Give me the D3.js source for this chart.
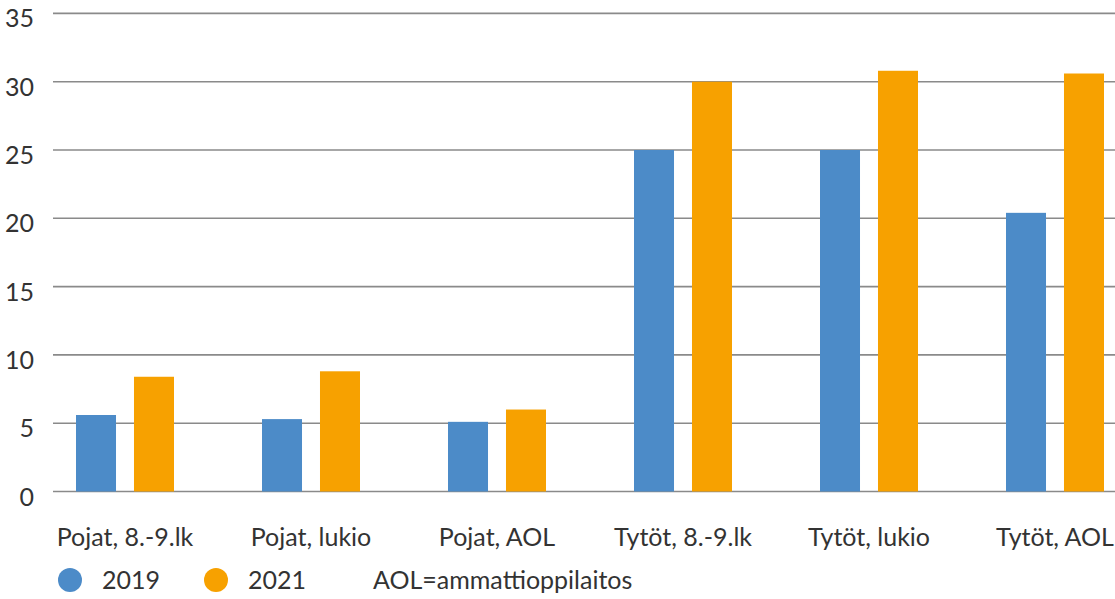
<!DOCTYPE html>
<html>
<head>
<meta charset="utf-8">
<script src="https://cdn.jsdelivr.net/npm/d3@7/dist/d3.min.js"></script>
<style>
  html, body { margin: 0; padding: 0; background: #fff; }
  svg { display: block; font-family: Lato, "Open Sans", sans-serif; }
</style>
</head>
<body>
<svg id="chart" width="1115" height="599"></svg>
<script>
// Categories and series
const categories = ["Pojat, 8.-9.lk", "Pojat, lukio", "Pojat, AOL", "Tytöt, 8.-9.lk", "Tytöt, lukio", "Tytöt, AOL"];
const years = ["2019", "2021"];
const values2019 = [5.6, 5.3, 5.1, 25.0, 25.0, 20.4];
const values2021 = [8.4, 8.8, 6.0, 30.0, 30.8, 30.6];
const yTicks = [0, 5, 10, 15, 20, 25, 30, 35];
const note = "AOL=ammattioppilaitos";

const colors = { "2019": "#4c8bc8", "2021": "#f7a100" };
const textColor = "#333333";
const fontSize = 25;

const svg = d3.select("#chart");
const W = 1115;

const x = d3.scaleBand().domain(categories).range([32, 1148]).paddingInner(0).paddingOuter(0);
const xSub = d3.scaleBand().domain(years).range([-49, 49]).paddingInner(0.31).paddingOuter(0);
const y = d3.scaleLinear().domain([0, 35]).range([491.5, 13.4]);

// Gridlines
svg.append("g")
  .selectAll("line")
  .data(yTicks)
  .join("line")
  .attr("x1", 53).attr("x2", W)
  .attr("y1", d => y(d)).attr("y2", d => y(d))
  .attr("stroke", "#8a8a8a")
  .attr("stroke-width", 1.6);

// Y tick labels, hanging just below each gridline
svg.append("g")
  .selectAll("text")
  .data(yTicks)
  .join("text")
  .attr("x", 34)
  .attr("y", d => y(d) + 14)
  .attr("text-anchor", "end")
  .attr("font-size", fontSize)
  .attr("fill", textColor)
  .text(d => d);

// Bars
const rows = categories.map((c, i) => ({ cat: c, vals: { "2019": values2019[i], "2021": values2021[i] } }));
const groups = svg.append("g")
  .selectAll("g")
  .data(rows)
  .join("g")
  .attr("transform", d => `translate(${x(d.cat) + x.bandwidth() / 2},0)`);

groups.selectAll("rect")
  .data(d => years.map(yr => ({ yr, v: d.vals[yr] })))
  .join("rect")
  .attr("x", d => xSub(d.yr))
  .attr("width", xSub.bandwidth())
  .attr("y", d => y(d.v))
  .attr("height", d => y(0) - y(d.v))
  .attr("fill", d => colors[d.yr]);

// Category labels
svg.append("g")
  .selectAll("text")
  .data(categories)
  .join("text")
  .attr("x", d => x(d) + x.bandwidth() / 2)
  .attr("y", 546)
  .attr("text-anchor", "middle")
  .attr("font-size", fontSize)
  .attr("fill", textColor)
  .text(d => d);

// Legend
const legendX = [70, 216];
const legend = svg.append("g")
  .selectAll("g")
  .data(years)
  .join("g")
  .attr("transform", (d, i) => `translate(${legendX[i]},580)`);
legend.append("circle").attr("r", 12).attr("fill", d => colors[d]);
legend.append("text")
  .attr("x", 32).attr("y", 9)
  .attr("font-size", fontSize)
  .attr("fill", textColor)
  .text(d => d);

svg.append("text")
  .attr("x", 373).attr("y", 589)
  .attr("font-size", fontSize)
  .attr("fill", textColor)
  .text(note);
</script>
</body>
</html>
